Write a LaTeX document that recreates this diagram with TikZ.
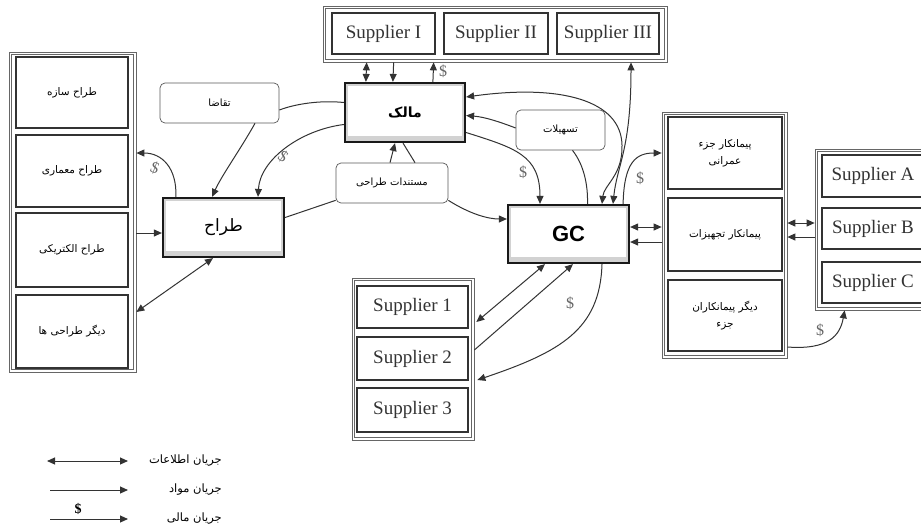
\documentclass[tikz,border=0pt]{standalone}
\usepackage{fontspec}
\setmainfont{Liberation Serif}
\newfontfamily\fafont[Script=Arabic]{DejaVu Sans}
\newfontfamily\gcfont{Liberation Sans}
\TeXXeTstate=1
\usetikzlibrary{arrows.meta,calc}
% right-to-left Persian text
\newcommand\fa[1]{{\fafont\beginR #1\endR}}

\tikzset{
  px/.style={x=1pt,y=-1pt},
  sz/.style 2 args={minimum width=#1pt, minimum height=#2pt},
  % container frame: a thin outer line with a second line just inside it
  groupbox/.style={draw=black!60, line width=0.7pt, inner sep=0pt, fill=white,
    path picture={\draw[black!60, line width=1pt] ([shift={(2.4pt,-2.4pt)}]path picture bounding box.north west) rectangle ([shift={(-2.4pt,2.4pt)}]path picture bounding box.south east);}},
  itembox/.style={draw=black!80, line width=1.1pt, fill=white, inner sep=0pt, text=black!80, font=\fontsize{19}{22}\selectfont},
  subbox/.style={itembox, font=\fafont\fontsize{10.5}{17}\selectfont, text=black, align=center},
  softbox/.style={draw=black!65, line width=0.7pt, rounded corners=5pt, fill=white, inner sep=0pt, font=\fafont\fontsize{10}{12}\selectfont},
  mainbox/.style={draw=black!90, line width=2.2pt, fill=gray!35, inner sep=0pt,
    path picture={\fill[white] ([shift={(3pt,-3pt)}]path picture bounding box.north west) rectangle ([shift={(-3pt,6pt)}]path picture bounding box.south east);}},
  link/.style={draw=black!80, line width=1pt},
  tip/.tip={Triangle[length=8pt,width=7pt]},
  mat/.style={link, -tip},
  info/.style={link, tip-tip},
  money/.style={font=\fontsize{16}{16}\selectfont, text=black!60, inner sep=0pt},
  legendtext/.style={font=\fafont\fontsize{11.5}{13}\selectfont, inner sep=0pt},
}

\begin{document}
\begin{tikzpicture}[px]
\useasboundingbox (0,0) rectangle (921,531);
\fill[white] (0,0) rectangle (921,531);

% ---- containers ----
\node[groupbox, sz={127}{320}] (dgroup)   at (72.5,212) {};
\node[groupbox, sz={344}{56}]  (topGroup) at (495,34) {};
\node[groupbox, sz={125}{246}] (subGroup) at (724.5,235) {};
\node[groupbox, sz={115}{161}] (abcGroup) at (872.5,229.5) {};
\node[groupbox, sz={122}{162}] (s123)     at (413,359) {};

% ---- designers ----
\node[subbox, sz={112}{71}] (d1) at (72,92.5)  {\fa{طراح سازه}};
\node[subbox, sz={112}{72}] (d2) at (72,171)   {\fa{طراح معماری}};
\node[subbox, sz={112}{74}] (d3) at (72,250)   {\fa{طراح الکتریکی}};
\node[subbox, sz={112}{73}] (d4) at (72,331.5) {\fa{دیگر طراحی ها}};

% ---- top suppliers ----
\node[itembox, sz={103}{41}] (sI)   at (383.5,33.5) {Supplier I};
\node[itembox, sz={104}{41}] (sII)  at (496,33.5)   {Supplier II};
\node[itembox, sz={102}{41}] (sIII) at (608,33.5)   {Supplier III};

% ---- sub-contractors ----
\node[subbox, sz={114}{72}] (c1) at (725,153)   {\fa{پیمانکار جزء}\\\fa{عمرانی}};
\node[subbox, sz={114}{73}] (c2) at (725,234.5) {\fa{پیمانکار تجهیزات}};
\node[subbox, sz={114}{71}] (c3) at (725,315.5) {\fa{دیگر پیمانکاران}\\\fa{جزء}};

% ---- suppliers A-C ----
\node[itembox, sz={102}{42}] (sA) at (873,176)   {Supplier A};
\node[itembox, sz={102}{41}] (sB) at (873,228.5) {Supplier B};
\node[itembox, sz={102}{41}] (sC) at (873,282.5) {Supplier C};

% ---- suppliers 1-3 ----
\node[itembox, sz={111}{42}] (s1) at (412.5,307)   {Supplier 1};
\node[itembox, sz={111}{43}] (s2) at (412.5,358.5) {Supplier 2};
\node[itembox, sz={111}{44}] (s3) at (412.5,410)   {Supplier 3};

% ---- main actors ----
\node[mainbox, sz={121}{59}] (designer) at (223.5,227.5) {\fafont\fontsize{17}{17}\selectfont\beginR طراح\endR};
\node[mainbox, sz={120}{59}] (owner)    at (405,112.5)   {\fafont\bfseries\fontsize{14}{14}\selectfont\beginR مالک\endR};
\node[mainbox, sz={121}{58}] (gc)       at (568.5,234)   {\gcfont\bfseries\fontsize{22}{22}\selectfont GC};

% ---- flow objects ----
\node[softbox, sz={119}{40}] (demand)     at (219.5,103) {\fa{تقاضا}};
\node[softbox, sz={112}{40}] (docs)       at (392,183)   {\fa{مستندات طراحی}};
\node[softbox, sz={89}{40}]  (facilities) at (560.5,130) {\fa{تسهیلات}};

% ---- designer side ----
\draw[mat] ($(dgroup.east)+(0,21)$) -- ($(designer.west)+(0,5.5)$);
\draw[mat] ($(designer.north west)+(14,0)$) .. controls (177,168) and (162,153) .. ($(dgroup.east)+(0,-59)$);
\draw[info] ($(designer.south)+(-10.5,0)$) -- ($(dgroup.east)+(0,100)$);
\draw[mat] ($(demand.south)+(35.5,0)$) .. controls (240,150) and (222,175) .. ($(designer.north)+(-11.5,0)$);
\draw[link] ($(owner.west)+(0,-10)$) .. controls (320,100) and (295,104) .. ($(demand.east)+(0,7)$);
\draw[mat] ($(owner.west)+(0,12)$) .. controls (300,130) and (260,160) .. ($(designer.north)+(34.5,0)$);
\draw[link] ($(designer.east)+(0,-10)$) -- ($(docs.south west)+(0,-3)$);
\draw[mat] ($(docs.south east)+(0,-3)$) .. controls (470,214) and (488,219) .. ($(gc.west)+(0,-15)$);
\draw[mat] ($(docs.north)+(-2,0)$) -- ($(owner.south)+(-10,0)$);
\draw[link] ($(docs.north)+(23,0)$) -- ($(owner.south)+(-2,0)$);

% ---- owner and top suppliers ----
\draw[info] ($(owner.north west)+(22,0)$) -- ($(topGroup.south west)+(44,0)$);
\draw[mat] ($(topGroup.south west)+(71,0)$) -- ($(owner.north west)+(49,0)$);
\draw[mat] ($(owner.north west)+(89,0)$) -- ($(topGroup.south west)+(111,0)$);

% ---- owner and GC ----
\draw[info] ($(owner.east)+(0,-15.5)$) .. controls (560,84) and (621,100) .. (622,145)
  .. controls (623,175) and (604,185) .. ($(gc.north)+(33.5,0)$);
\draw[mat] ($(facilities.west)+(0,-2)$) .. controls (500,122) and (485,117) .. ($(owner.east)+(0,3)$);
\draw[link] ($(facilities.south)+(12,0)$) .. controls (584,165) and (588,185) .. ($(gc.north)+(19,0)$);
\draw[mat] ($(owner.east)+(0,20)$) .. controls (515,148) and (540,155) .. ($(gc.north)+(-28.5,0)$);
\draw[info] ($(gc.north)+(44.5,0)$) .. controls (617,165) and (631,150) .. ($(topGroup.south)+(136,0)$);

% ---- GC and sub-contractors ----
\draw[mat] ($(gc.north east)+(-7,0)$) .. controls (624,162) and (636,153) .. ($(subGroup.west)+(0,-82)$);
\draw[info] ($(gc.east)+(0,-7)$) -- ($(subGroup.west)+(0,-8)$);
\draw[mat] ($(subGroup.west)+(0,7)$) -- ($(gc.east)+(0,8)$);
\draw[info] ($(subGroup.east)+(0,-12)$) -- ($(abcGroup.west)+(0,-6.5)$);
\draw[mat] ($(abcGroup.west)+(0,7.5)$) -- ($(subGroup.east)+(0,2)$);
\draw[mat] ($(subGroup.east)+(0,112)$) .. controls (828,350) and (840,336) .. ($(abcGroup.south west)+(30,0)$);

% ---- GC and suppliers 1-3 ----
\draw[info] ($(gc.south)+(-23.5,0)$) -- ($(s123.east)+(2,-37)$);
\draw[mat] ($(s123.east)+(0,-9)$) -- ($(gc.south)+(4.5,0)$);
\draw[mat] ($(gc.south)+(33.5,0)$) .. controls (600,330) and (560,352) .. ($(s123.east)+(3,21)$);

% ---- money labels ----
\node[money, rotate=-20] (m1) at (155,168) {\$};
\node[money, rotate=-35] (m2) at (283,157) {\$};
\node[money] (m3) at (443,71)  {\$};
\node[money] (m4) at (523,172) {\$};
\node[money] (m5) at (640,178) {\$};
\node[money] (m6) at (570,303) {\$};
\node[money] (m7) at (820,330) {\$};

% ---- legend ----
\coordinate (lgA1) at (47,461);  \coordinate (lgA2) at (128,461);
\coordinate (lgB1) at (50,490);  \coordinate (lgB2) at (128,490);
\coordinate (lgC1) at (50,519);  \coordinate (lgC2) at (128,519);
\draw[info] (lgA1) -- (lgA2);
\draw[mat] (lgB1) -- (lgB2);
\draw[mat] (lgC1) -- (lgC2);
\node[font=\bfseries\fontsize{14}{14}\selectfont, inner sep=0pt] (lgDollar) at (78,509) {\$};
\node[legendtext, anchor=east] (lgInfo)  at (222,461) {\fa{جریان اطلاعات}};
\node[legendtext, anchor=east] (lgMat)   at (222,490) {\fa{جریان مواد}};
\node[legendtext, anchor=east] (lgMoney) at (222,519) {\fa{جریان مالی}};
\end{tikzpicture}
\end{document}
